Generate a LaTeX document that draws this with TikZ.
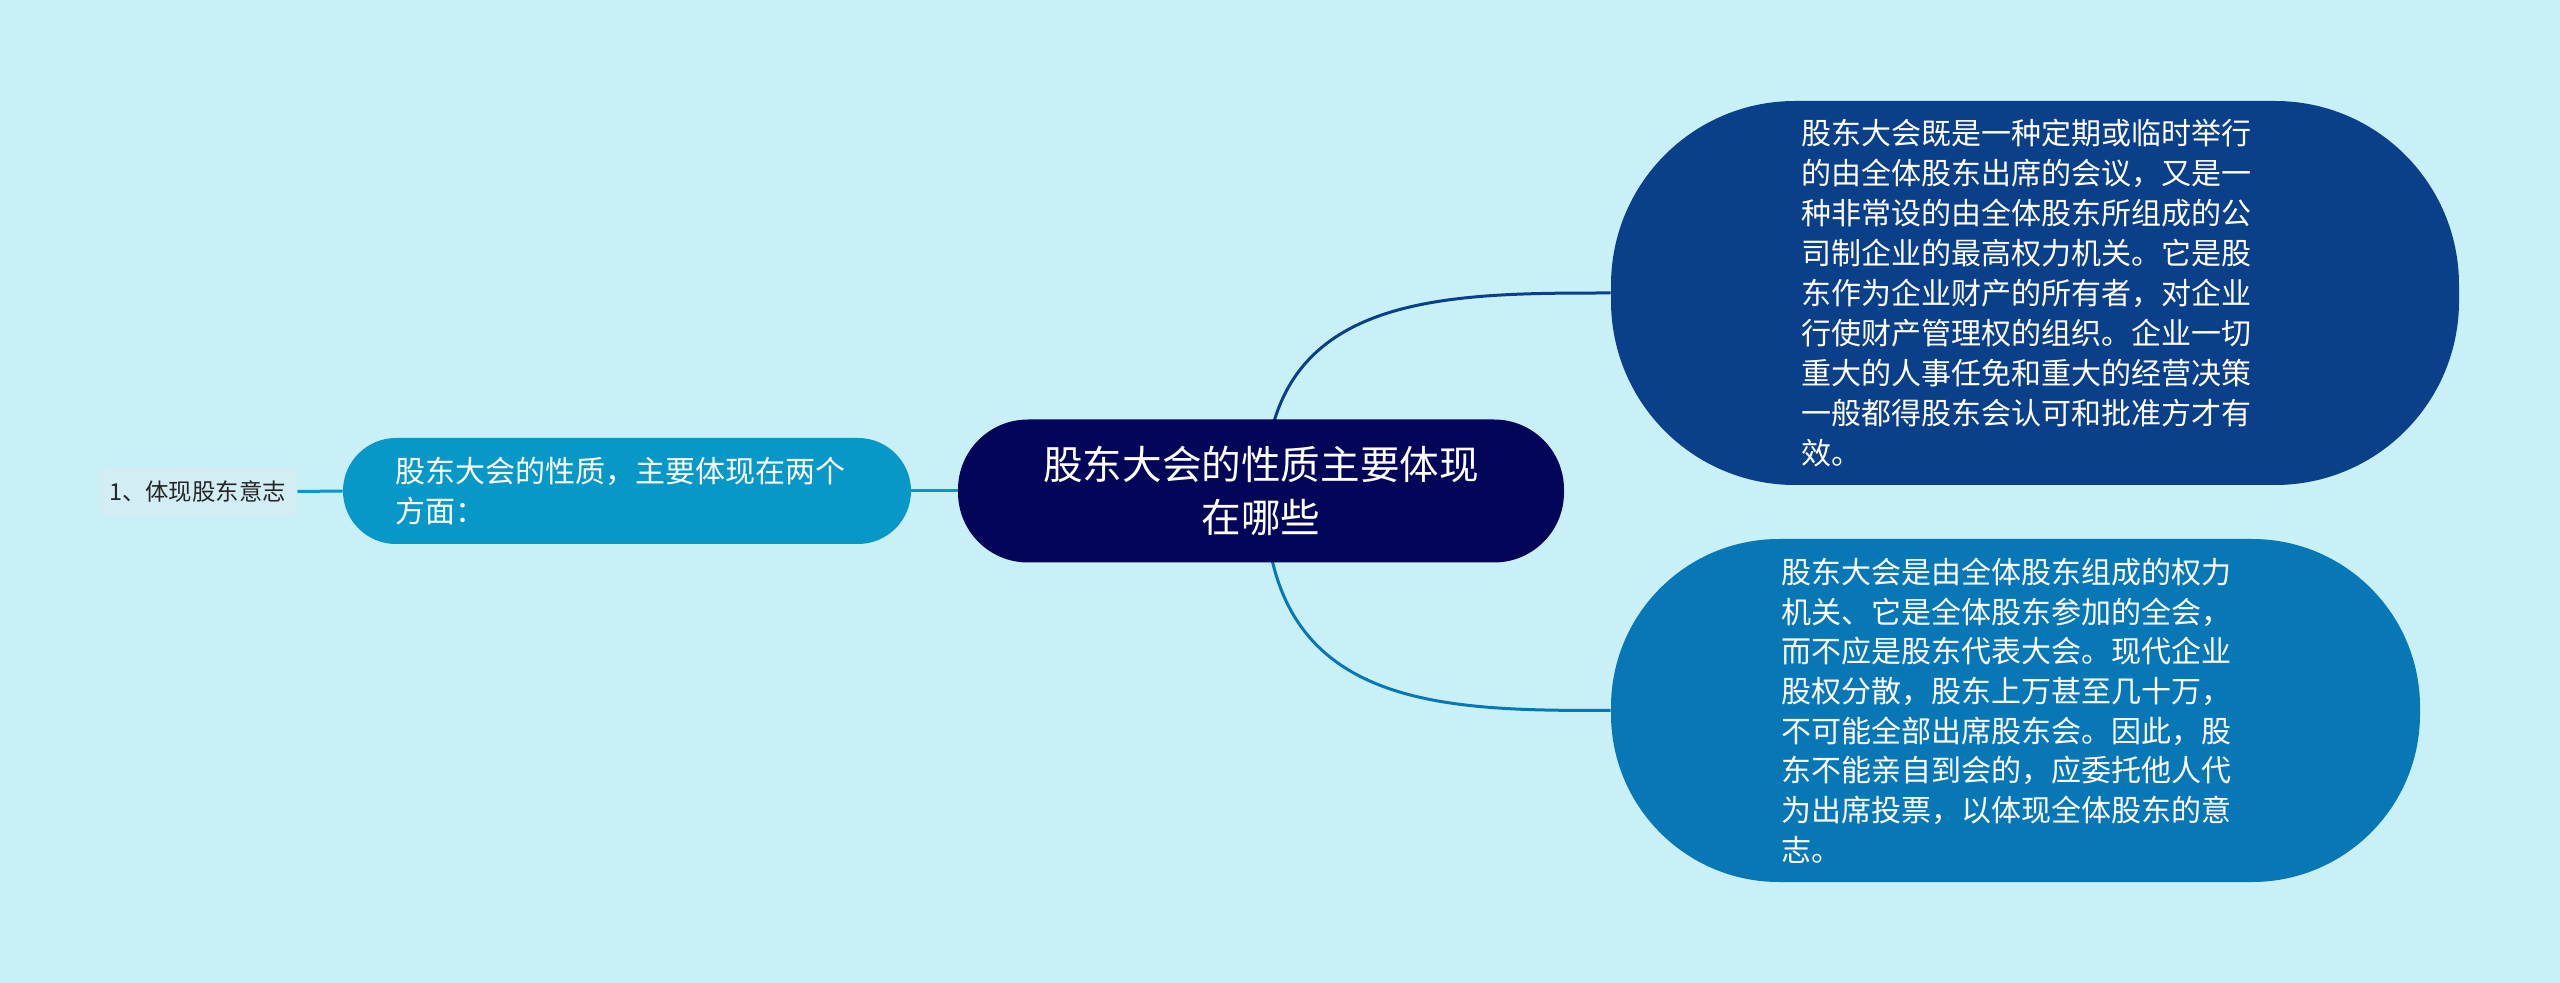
\documentclass[tikz,border=0pt]{standalone}
\usepackage{fontspec}
\newfontfamily\cjk{Noto Sans CJK SC}
\definecolor{bgc}{HTML}{C9F0F7}
\definecolor{labc}{HTML}{D3EDF4}
\definecolor{leftc}{HTML}{0898C8}
\definecolor{centc}{HTML}{030558}
\definecolor{trc}{HTML}{0A3F89}
\definecolor{brc}{HTML}{0777B6}
\pgfdeclarelayer{bglayer}
\pgfdeclarelayer{edgelayer}
\pgfsetlayers{bglayer,edgelayer,main}
\tikzset{
  pill/.style={shape=rectangle, text=white, inner sep=0pt},
  leftline/.style={draw=leftc, line width=1.5pt},
  topline/.style={draw=trc, line width=1.5pt},
  botline/.style={draw=brc, line width=1.5pt},
}
\begin{document}
\begin{tikzpicture}[x=0.5pt,y=-0.5pt]
\useasboundingbox (0,0) rectangle (2560,983);
\begin{pgfonlayer}{bglayer}
\fill[bgc] (0,0) rectangle (2560,983);
\end{pgfonlayer}

\node[pill, fill=centc, rounded corners=35pt, minimum width=303pt, minimum height=71.5pt, align=center,
      font={\cjk\fontsize{19.8pt}{26.5pt}\selectfont}] (c) at (1261,491)
  {股东大会的性质主要体现\\在哪些};

\node[pill, fill=leftc, rounded corners=26.5pt, minimum width=284pt, minimum height=53pt,
      text width=232pt, inner xsep=26pt, align=left,
      font={\cjk\fontsize{15pt}{20pt}\selectfont}] (l) at (627,491)
  {股东大会的性质，主要体现在两个\\方面：};

\node[shape=rectangle, fill=labc, rounded corners=4pt, minimum width=99.5pt, minimum height=24.5pt,
      inner sep=0pt, text=black!85, font={\cjk\fontsize{11.7pt}{14pt}\selectfont}] (lab) at (197.5,491.5)
  {1、体现股东意志};

\node[pill, fill=trc, rounded corners=92pt, minimum width=424pt, minimum height=192pt,
      text width=234pt, align=left, font={\cjk\fontsize{15pt}{20pt}\selectfont}] (tr) at (2035,293)
  {股东大会既是一种定期或临时举行\\的由全体股东出席的会议，又是一\\种非常设的由全体股东所组成的公\\司制企业的最高权力机关。它是股\\东作为企业财产的所有者，对企业\\行使财产管理权的组织。企业一切\\重大的人事任免和重大的经营决策\\一般都得股东会认可和批准方才有\\效。};

\node[pill, fill=brc, rounded corners=84pt, minimum width=404.5pt, minimum height=171.5pt,
      text width=234pt, align=left, font={\cjk\fontsize{15pt}{19.85pt}\selectfont}] (br) at (2015.5,710.5)
  {股东大会是由全体股东组成的权力\\机关、它是全体股东参加的全会，\\而不应是股东代表大会。现代企业\\股权分散，股东上万甚至几十万，\\不可能全部出席股东会。因此，股\\东不能亲自到会的，应委托他人代\\为出席投票，以体现全体股东的意\\志。};

\coordinate (cs) at (1265,491);
\begin{pgfonlayer}{edgelayer}
\draw[leftline] (lab.east) -- (l.west);
\draw[leftline] (l.east) -- (c.west);
\draw[topline] (cs) .. controls +(0,-198) and +(-170,0) .. (tr.west);
\draw[botline] (cs) .. controls +(0,219) and +(-170,0) .. (br.west);
\end{pgfonlayer}
\end{tikzpicture}
\end{document}
